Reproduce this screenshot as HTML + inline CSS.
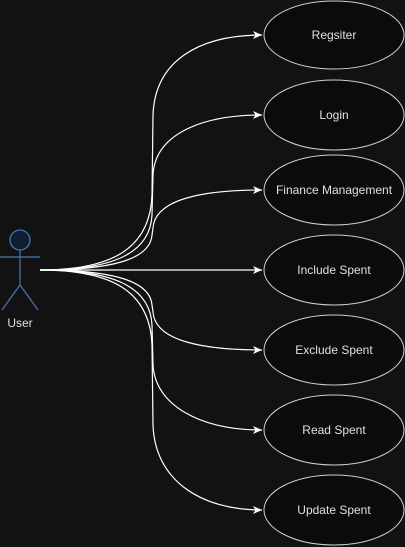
<!DOCTYPE html>
<html><head><style>body{margin:0;background:#121212}svg{display:block}</style></head>
<body>
<svg width="405" height="547" viewBox="0 0 405 547" xmlns="http://www.w3.org/2000/svg" font-family="Liberation Sans, sans-serif">
<rect width="405" height="547" fill="#121212"/>
<defs><marker id="a" markerWidth="10" markerHeight="10" refX="9" refY="5" orient="auto" markerUnits="userSpaceOnUse"><path d="M0,1 L9,5 L0,9 L2.5,5 Z" fill="#fff"/></marker></defs>
<g fill="none" stroke="#fff" stroke-width="1.2" marker-end="url(#a)">
<path d="M40,270 C110,270 150,250 152,195 L153,115 C155,60 200,35 262,35"/>
<path d="M40,270 C110,270 150,255 152,215 L153,175 C155,135 200,115 262,115"/>
<path d="M40,270 C110,270 150,260 152,235 L153,228 C155,200 200,190 262,190"/>
<path d="M40,270 L262,270"/>
<path d="M40,270 C110,270 150,280 152,305 L153,312 C155,340 200,350 262,350"/>
<path d="M40,270 C110,270 150,285 152,325 L153,365 C155,405 200,430 262,430"/>
<path d="M40,270 C110,270 150,290 152,345 L153,425 C155,480 200,510 262,510"/>
</g>
<g fill="#0b0b0b" stroke="#cfcfcf" stroke-width="1">
<ellipse cx="334" cy="35" rx="70" ry="34"/>
<ellipse cx="334" cy="115" rx="70" ry="35"/>
<ellipse cx="334" cy="190" rx="70" ry="35"/>
<ellipse cx="334" cy="270" rx="70" ry="35"/>
<ellipse cx="334" cy="350" rx="70" ry="35"/>
<ellipse cx="334" cy="430" rx="70" ry="35"/>
<ellipse cx="334" cy="510" rx="70" ry="35"/>
</g>
<g fill="#e0e0e0" font-size="12" text-anchor="middle">
<text x="334" y="39">Regsiter</text>
<text x="334" y="119">Login</text>
<text x="334" y="194">Finance Management</text>
<text x="334" y="274">Include Spent</text>
<text x="334" y="354">Exclude Spent</text>
<text x="334" y="434">Read Spent</text>
<text x="334" y="514">Update Spent</text>
<text x="20" y="327">User</text>
</g>
<g stroke="#4a78b0" stroke-width="1.2" fill="none">
<circle cx="20" cy="240" r="10" fill="#0f1e33"/>
<path d="M20,250 L20,285 M0,257 L40,257 M20,285 L2,310 M20,285 L38,310"/>
</g>
</svg>
</body></html>
